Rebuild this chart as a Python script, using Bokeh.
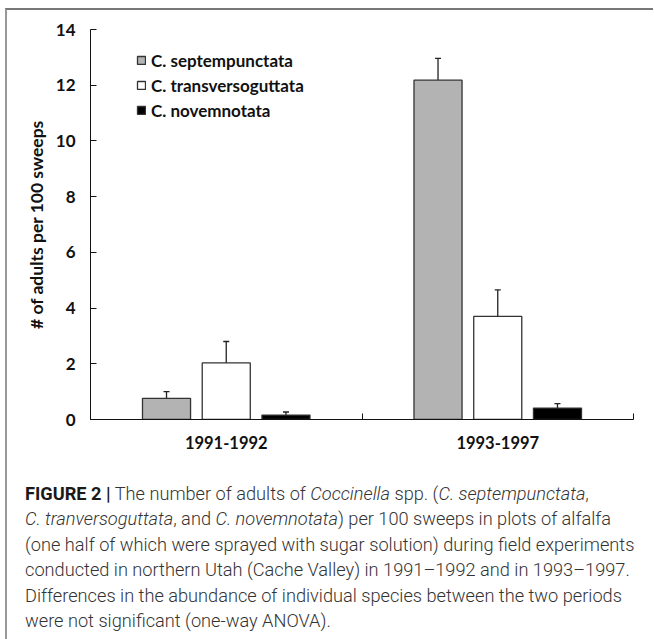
from bokeh.plotting import figure
from bokeh.models import (ColumnDataSource, Range1d, FixedTicker, Whisker, TeeHead,
                          Legend, LegendItem, Div)
from bokeh.layouts import column
from bokeh.embed import file_html
from bokeh.resources import INLINE

# ---- data ----
periods = ["1991-1992", "1993-1997"]
species = ["C. septempunctata", "C. transversoguttata", "C. novemnotata"]
means = {
    "C. septempunctata": [0.76, 12.18],
    "C. transversoguttata": [2.03, 3.70],
    "C. novemnotata": [0.16, 0.41],
}
errors = {
    "C. septempunctata": [0.24, 0.78],
    "C. transversoguttata": [0.77, 0.95],
    "C. novemnotata": [0.11, 0.16],
}
y_ticks = [0, 2, 4, 6, 8, 10, 12, 14]

# ---- styles ----
fills = ["#b3b3b3", "#ffffff", "#000000"]
offsets = [-0.22, 0.0, 0.22]
bar_w = 0.177
FONT = "Lato"

p = figure(width=636, height=445, output_backend="svg", toolbar_location=None,
           x_range=Range1d(0, 2), y_range=Range1d(0, 14),
           min_border_left=83, min_border_right=10, min_border_top=19,
           min_border_bottom=36)
p.outline_line_color = None
p.xgrid.grid_line_color = None
p.ygrid.grid_line_color = None
p.background_fill_color = "white"
p.border_fill_color = "white"

renderers = []
for k, sp in enumerate(species):
    xs = [i + 0.5 + offsets[k] for i in range(len(periods))]
    tops = means[sp]
    uppers = [m + e for m, e in zip(means[sp], errors[sp])]
    src = ColumnDataSource(dict(x=xs, top=tops, upper=uppers))
    w = Whisker(base="x", lower="top", upper="upper", source=src,
                line_color="#222222", line_width=1.3,
                upper_head=TeeHead(size=6, line_color="#222222", line_width=1.3),
                lower_head=None, level="underlay")
    p.add_layout(w)
    r = p.vbar(x="x", top="top", width=bar_w, source=src,
               fill_color=fills[k], line_color="#333333", line_width=1.3)
    renderers.append(r)

legend = Legend(items=[LegendItem(label=sp, renderers=[r]) for sp, r in zip(species, renderers)],
                location=(46, 298), glyph_width=10, glyph_height=10,
                label_standoff=5, padding=0, margin=0, spacing=4, label_height=20,
                border_line_color=None, background_fill_alpha=0,
                label_text_font=FONT, label_text_font_style="bold",
                label_text_font_size="17px", label_text_color="#111111")
p.add_layout(legend)

# y axis
ya = p.yaxis[0]
ya.ticker = FixedTicker(ticks=y_ticks)
ya.major_tick_in = 6
ya.major_tick_out = 0
ya.minor_tick_line_color = None
ya.axis_line_color = "#111111"
ya.major_tick_line_color = "#111111"
ya.major_label_text_font = FONT
ya.major_label_text_font_style = "bold"
ya.major_label_text_font_size = "17px"
ya.major_label_text_color = "#111111"
ya.major_label_standoff = 15
ya.axis_label = "# of adults per 100 sweeps"
ya.axis_label_text_font = FONT
ya.axis_label_text_font_style = "bold"
ya.axis_label_text_font_size = "17.5px"
ya.axis_label_text_color = "#111111"
ya.axis_label_standoff = 6

# x axis: labels at category centres, ticks at category boundaries
xa = p.xaxis[0]
xa.ticker = FixedTicker(ticks=[i + 0.5 for i in range(len(periods))],
                        minor_ticks=list(range(len(periods) + 1)))
xa.major_label_overrides = {i + 0.5: lab for i, lab in enumerate(periods)}
xa.major_tick_line_color = None
xa.major_tick_in = 0
xa.major_tick_out = 0
xa.minor_tick_in = 6
xa.minor_tick_out = 0
xa.minor_tick_line_color = "#111111"
xa.axis_line_color = "#111111"
xa.major_label_text_font = FONT
xa.major_label_text_font_style = "bold"
xa.major_label_text_font_size = "16.5px"
xa.major_label_text_color = "#111111"
xa.major_label_standoff = 16

caption_html = (
    '<div style="font-family: Roboto, sans-serif; font-weight: 300; font-size: 18.2px; '
    'line-height: 25.4px; color: #333333; white-space: nowrap; padding: 21.5px 0 0 13px;">'
    '<b style="font-weight: 700; color: #1a1a1a;">FIGURE 2 |</b> The number of adults of '
    '<i>Coccinella</i> spp. (<i>C. septempunctata</i>,<br>'
    '<i>C. tranversoguttata</i>, and <i>C. novemnotata</i>) per 100 sweeps in plots of alfalfa<br>'
    '(one half of which were sprayed with sugar solution) during field experiments<br>'
    'conducted in northern Utah (Cache Valley) in 1991&ndash;1992 and in 1993&ndash;1997.<br>'
    'Differences in the abundance of individual species between the two periods<br>'
    'were not significant (one-way ANOVA).</div>'
)
cap = Div(text=caption_html, width=636, height=176)

layout = column(p, cap, spacing=0,
                styles={"border-top": "2px solid #777777", "border-left": "2px solid #999999",
                        "background": "white", "margin": "7.5px 0 0 5px"})

open("out.html", "w").write(file_html(layout, INLINE))
